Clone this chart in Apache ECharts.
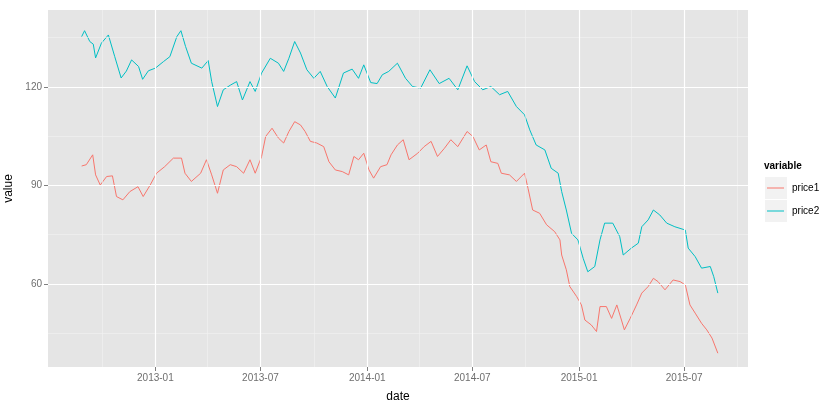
<!DOCTYPE html>
<html><head><meta charset="utf-8">
<script src="https://cdn.jsdelivr.net/npm/echarts@6/dist/echarts.min.js"></script>
<style>html,body{margin:0;padding:0;background:#fff}#c{width:840px;height:407px}</style>
</head><body><div id="c"></div>
<script>
// price1 (red) samples
var dates1 = ['2012-08-27','2012-09-04','2012-09-15','2012-09-20','2012-09-28','2012-10-09','2012-10-19','2012-10-26','2012-11-06','2012-11-18',
  '2012-12-02','2012-12-11','2012-12-23','2013-01-03','2013-01-17','2013-02-01','2013-02-15','2013-02-21','2013-03-04','2013-03-20',
  '2013-03-30','2013-04-08','2013-04-18','2013-04-28','2013-05-10','2013-05-21','2013-06-02','2013-06-13','2013-06-22','2013-07-03',
  '2013-07-10','2013-07-21','2013-08-01','2013-08-10','2013-08-19','2013-08-29','2013-09-08','2013-09-16','2013-09-25','2013-10-06',
  '2013-10-18','2013-10-27','2013-11-07','2013-11-19','2013-11-30','2013-12-09','2013-12-17','2013-12-26','2014-01-04','2014-01-12',
  '2014-01-24','2014-02-04','2014-02-11','2014-02-22','2014-03-04','2014-03-14','2014-03-29','2014-04-09','2014-04-21','2014-05-02',
  '2014-05-14','2014-05-25','2014-06-06','2014-06-22','2014-07-02','2014-07-13','2014-07-25','2014-08-02','2014-08-14','2014-08-20',
  '2014-09-03','2014-09-15','2014-09-29','2014-10-05','2014-10-13','2014-10-25','2014-11-06','2014-11-20','2014-11-29','2014-12-02',
  '2014-12-10','2014-12-16','2014-12-28','2015-01-05','2015-01-11','2015-01-22','2015-01-31','2015-02-06','2015-02-17','2015-02-26',
  '2015-03-07','2015-03-15','2015-03-20','2015-03-30','2015-04-10','2015-04-19','2015-04-30','2015-05-09','2015-05-17','2015-05-29',
  '2015-06-12','2015-06-24','2015-07-03','2015-07-11','2015-07-20','2015-07-31','2015-08-09','2015-08-18','2015-08-28'];
var price1 = [95.9,96.3,99.3,93.2,90.1,92.7,92.9,86.6,85.6,88.1,
  89.6,86.6,90.1,93.7,95.7,98.3,98.3,93.7,91.2,93.7,
  97.8,93.2,87.6,94.7,96.3,95.7,93.7,97.8,93.7,98.8,
  104.9,107.4,104.4,102.9,106.4,109.4,108.4,106.4,103.4,102.9,
  101.8,97.2,94.7,94.2,93.2,98.8,97.8,99.8,94.7,92.2,
  95.7,96.3,99.3,102.3,103.9,97.8,99.8,101.8,103.4,98.8,
  101.3,103.9,101.8,106.4,104.9,100.8,102.3,97.2,96.7,93.7,
  93.2,91.2,93.7,89.1,82.5,81.5,78.0,75.9,73.4,68.8,
  64.3,59.2,56.1,53.6,49.0,47.5,45.5,53.1,53.1,49.5,
  53.6,49.0,46.0,49.5,53.6,57.2,59.2,61.7,60.7,58.2,
  61.2,60.7,59.7,53.6,51.1,48.0,46.0,43.5,38.9];

// price2 (cyan)
var dates2 = ['2012-08-27','2012-09-01','2012-09-10','2012-09-16','2012-09-20','2012-09-30','2012-10-12','2012-10-23','2012-11-03','2012-11-12',
  '2012-11-21','2012-12-03','2012-12-10','2012-12-20','2013-01-01','2013-01-15','2013-01-26','2013-02-07','2013-02-14','2013-02-22',
  '2013-03-04','2013-03-22','2013-04-02','2013-04-08','2013-04-18','2013-04-28','2013-05-10','2013-05-21','2013-05-31','2013-06-13',
  '2013-06-22','2013-07-03','2013-07-18','2013-08-01','2013-08-10','2013-08-19','2013-08-29','2013-09-08','2013-09-19','2013-10-01',
  '2013-10-12','2013-10-24','2013-11-07','2013-11-21','2013-12-06','2013-12-17','2013-12-26','2014-01-07','2014-01-18','2014-01-27',
  '2014-02-07','2014-02-22','2014-03-08','2014-03-20','2014-04-03','2014-04-19','2014-05-05','2014-05-22','2014-06-06','2014-06-22',
  '2014-07-05','2014-07-19','2014-08-02','2014-08-17','2014-08-31','2014-09-15','2014-09-29','2014-10-08','2014-10-19','2014-11-03',
  '2014-11-14','2014-11-26','2014-12-02','2014-12-10','2014-12-19','2014-12-30','2015-01-08','2015-01-16','2015-01-28','2015-02-06',
  '2015-02-14','2015-02-28','2015-03-12','2015-03-18','2015-04-01','2015-04-13','2015-04-19','2015-04-30','2015-05-09','2015-05-20',
  '2015-06-01','2015-06-15','2015-07-03','2015-07-08','2015-07-20','2015-07-31','2015-08-15','2015-08-21','2015-08-28'];
var price2 = [135.3,137.1,133.8,133.0,128.8,133.3,135.8,129.2,122.7,124.8,
  128.2,126.2,122.3,124.9,125.7,127.7,129.2,135.3,137.1,132.3,
  127.2,125.7,128.0,121.6,114.0,119.1,120.5,121.6,116.0,121.6,
  118.6,124.2,128.7,127.2,124.7,128.7,133.8,130.3,125.2,122.6,
  124.7,120.1,116.6,124.2,125.4,122.6,126.7,121.3,121.0,123.7,
  124.7,127.2,122.6,120.1,119.6,125.2,121.0,122.6,119.1,126.4,
  121.6,119.1,120.1,117.6,118.6,114.0,111.5,106.9,102.3,100.8,
  95.2,93.7,88.1,82.5,75.4,73.4,67.8,63.7,65.3,73.4,
  78.5,78.5,74.4,68.8,70.9,72.4,77.4,79.5,82.5,81.0,
  78.5,77.4,76.4,70.9,68.3,64.8,65.3,62.2,57.2];

var yTicks = [60, 90, 120];
var yMinor = [45, 75, 105, 135];
var xTicks = ['2013-01-01','2013-07-01','2014-01-01','2014-07-01','2015-01-01','2015-07-01'];
var xTickLabels = ['2013-01','2013-07','2014-01','2014-07','2015-01','2015-07'];
var xMinor = ['2012-10-01','2013-04-01','2013-10-01','2014-04-01','2014-10-01','2015-04-01','2015-10-01'];

function ts(s) { return +new Date(s + 'T00:00:00Z'); }
function pairs(d, v) { return d.map(function (x, i) { return [ts(x), v[i]]; }); }
var xTickTs = xTicks.map(ts);

var gridLines = [];
yMinor.forEach(function (v) { gridLines.push({ yAxis: v, lineStyle: { color: '#F2F2F2', width: 0.6, type: 'solid' } }); });
xMinor.forEach(function (v) { gridLines.push({ xAxis: ts(v), lineStyle: { color: '#F2F2F2', width: 0.6, type: 'solid' } }); });
yTicks.forEach(function (v) { gridLines.push({ yAxis: v, lineStyle: { color: '#FFFFFF', width: 1.2, type: 'solid' } }); });
xTickTs.forEach(function (v) { gridLines.push({ xAxis: v, lineStyle: { color: '#FFFFFF', width: 1.2, type: 'solid' } }); });

var labelFont = { color: '#6E6E6E', fontSize: 10, fontFamily: 'Liberation Sans' };

var chart = echarts.init(document.getElementById('c'));
chart.setOption({
  animation: false,
  textStyle: { fontFamily: 'Liberation Sans' },
  grid: { left: 48, right: 92, top: 10, bottom: 40, show: true, backgroundColor: '#E5E5E5', borderWidth: 0,
    containLabel: false, outerBoundsMode: 'none' },
  xAxis: {
    type: 'value', min: ts('2012-06-30'), max: ts('2015-10-19'),
    name: 'date', nameLocation: 'middle', nameGap: 24,
    nameTextStyle: { color: '#000', fontSize: 12 },
    axisLine: { show: false },
    axisTick: { show: true, customValues: xTickTs, length: 4, lineStyle: { color: '#7F7F7F' } },
    axisLabel: Object.assign({
      customValues: xTickTs, margin: 6,
      formatter: function (v) { var i = xTickTs.indexOf(v); return i >= 0 ? xTickLabels[i] : ''; }
    }, labelFont),
    splitLine: { show: false }
  },
  yAxis: {
    type: 'value', min: 34.7, max: 143.4,
    name: 'value', nameLocation: 'middle', nameGap: 30,
    nameTextStyle: { color: '#000', fontSize: 12 },
    axisLine: { show: false },
    axisTick: { show: true, customValues: yTicks, length: 4, lineStyle: { color: '#7F7F7F' } },
    axisLabel: Object.assign({ customValues: yTicks, margin: 6 }, labelFont),
    splitLine: { show: false }
  },
  legend: {
    orient: 'vertical', left: 765, top: 177, padding: 0, itemGap: 1, itemWidth: 22, itemHeight: 22,
    icon: 'rect', itemStyle: { color: '#F2F2F2' },
    textStyle: { fontSize: 10, color: '#000' },
    data: ['price1', 'price2']
  },
  graphic: [
    { type: 'text', left: 764, top: 161, style: { text: 'variable', font: 'bold 10px Liberation Sans', fill: '#000' } },
    { type: 'line', z: 100, shape: { x1: 767, y1: 188, x2: 784, y2: 188 }, style: { stroke: '#F8766D', lineWidth: 1 } },
    { type: 'line', z: 100, shape: { x1: 767, y1: 211, x2: 784, y2: 211 }, style: { stroke: '#00BFC4', lineWidth: 1 } }
  ],
  series: [
    { name: 'grid', type: 'line', data: [], silent: true, z: 1,
      markLine: { silent: true, symbol: 'none', label: { show: false }, data: gridLines } },
    { name: 'price1', type: 'line', data: pairs(dates1, price1), showSymbol: false, z: 3,
      lineStyle: { color: '#F8766D', width: 1 }, itemStyle: { color: '#F8766D' } },
    { name: 'price2', type: 'line', data: pairs(dates2, price2), showSymbol: false, z: 3,
      lineStyle: { color: '#00BFC4', width: 1 }, itemStyle: { color: '#00BFC4' } }
  ]
});
</script>
</body></html>
